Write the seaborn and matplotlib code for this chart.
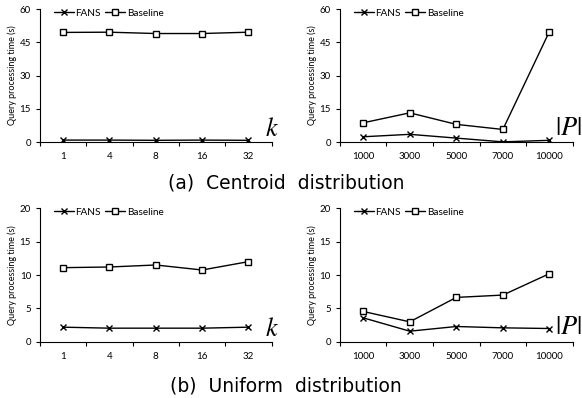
import numpy as np
import matplotlib
matplotlib.use("Agg")
import matplotlib.pyplot as plt
import seaborn as sns

sns.set_style("white")
plt.rcParams['font.family'] = ['Lato', 'DejaVu Sans']
plt.rcParams['mathtext.fontset'] = 'stix'
plt.rcParams['text.color'] = 'black'
plt.rcParams['axes.labelcolor'] = 'black'
plt.rcParams['xtick.color'] = 'black'
plt.rcParams['ytick.color'] = 'black'

# data
k_values = ["1", "4", "8", "16", "32"]
p_values = ["1000", "3000", "5000", "7000", "10000"]

centroid_k_fans = [0.9, 0.9, 0.8, 0.9, 0.8]
centroid_k_base = [49.5, 49.6, 49.0, 49.0, 49.6]
centroid_p_fans = [2.4, 3.5, 1.8, 0.1, 0.8]
centroid_p_base = [8.7, 13.2, 8.0, 5.7, 49.9]

uniform_k_fans = [2.2, 2.05, 2.05, 2.05, 2.2]
uniform_k_base = [11.1, 11.2, 11.5, 10.75, 12.0]
uniform_p_fans = [3.6, 1.6, 2.3, 2.1, 2.0]
uniform_p_base = [4.55, 3.0, 6.65, 7.0, 10.2]

panels = [
    # (rect, categories, fans, baseline, ymax, ystep, axis label)
    ([0.0687, 0.643, 0.398, 0.334], k_values, centroid_k_fans, centroid_k_base, 60, 15, "k"),
    ([0.584, 0.643, 0.400, 0.334], p_values, centroid_p_fans, centroid_p_base, 60, 15, "P"),
    ([0.0687, 0.141, 0.398, 0.336], k_values, uniform_k_fans, uniform_k_base, 20, 5, "k"),
    ([0.584, 0.141, 0.400, 0.336], p_values, uniform_p_fans, uniform_p_base, 20, 5, "P"),
]

fig = plt.figure(figsize=(5.82, 3.98), dpi=100)

for rect, cats, fans, base, ymax, ystep, lab in panels:
    ax = fig.add_axes(rect)
    sns.lineplot(x=cats, y=fans, marker="x", color="black", linewidth=1.0,
                 markersize=5, markeredgecolor="black", markeredgewidth=1.0,
                 label="FANS", ax=ax, sort=False)
    sns.lineplot(x=cats, y=base, marker="s", color="black", linewidth=1.0,
                 markersize=5, markerfacecolor="white", markeredgecolor="black",
                 markeredgewidth=1.0, label="Baseline", ax=ax, sort=False)
    ax.set_xlim(-0.5, len(cats) - 0.5)
    ax.set_ylim(0, ymax)
    ax.set_yticks(np.arange(0, ymax + 1, ystep))
    ax.set_xticks(range(len(cats)))
    ax.set_xticklabels(cats)
    ax.set_xticks(np.arange(-0.5, len(cats), 1.0), minor=True)
    ax.tick_params(axis="x", which="major", length=0, labelsize=7, pad=7)
    ax.tick_params(axis="x", which="minor", length=3, width=0.8, direction="out", bottom=True)
    ax.tick_params(axis="y", length=3, width=0.8, direction="out", left=True, labelsize=7)
    ax.set_xlabel("")
    ax.set_ylabel("Query processing time (s)", fontsize=6.5)
    ax.yaxis.set_label_coords(-0.1, 0.5)
    for s in ["top", "right"]:
        ax.spines[s].set_visible(False)
    for s in ["left", "bottom"]:
        ax.spines[s].set_color("black")
        ax.spines[s].set_linewidth(0.8)
    ax.legend(loc="upper left", bbox_to_anchor=(0.02, 1.07), ncol=2, frameon=False,
              fontsize=7.2, handlelength=2.0, handletextpad=0.2, columnspacing=0.4)
    if lab == "k":
        ax.text(1.0, 0.1, "$k$", transform=ax.transAxes, fontsize=19,
                ha="center", va="center")

# |P| labels sit at the right edge of the figure
fig.text(0.999, 0.68, "$|P|$", fontsize=19, ha="right", va="center")
fig.text(0.999, 0.18, "$|P|$", fontsize=19, ha="right", va="center")

fig.text(0.492, 0.54, "(a)  Centroid  distribution", fontsize=13.5, ha="center",
         va="center", family="DejaVu Sans")
fig.text(0.492, 0.03, "(b)  Uniform  distribution", fontsize=13.5, ha="center",
         va="center", family="DejaVu Sans")

fig.savefig("out.png", dpi=100)
